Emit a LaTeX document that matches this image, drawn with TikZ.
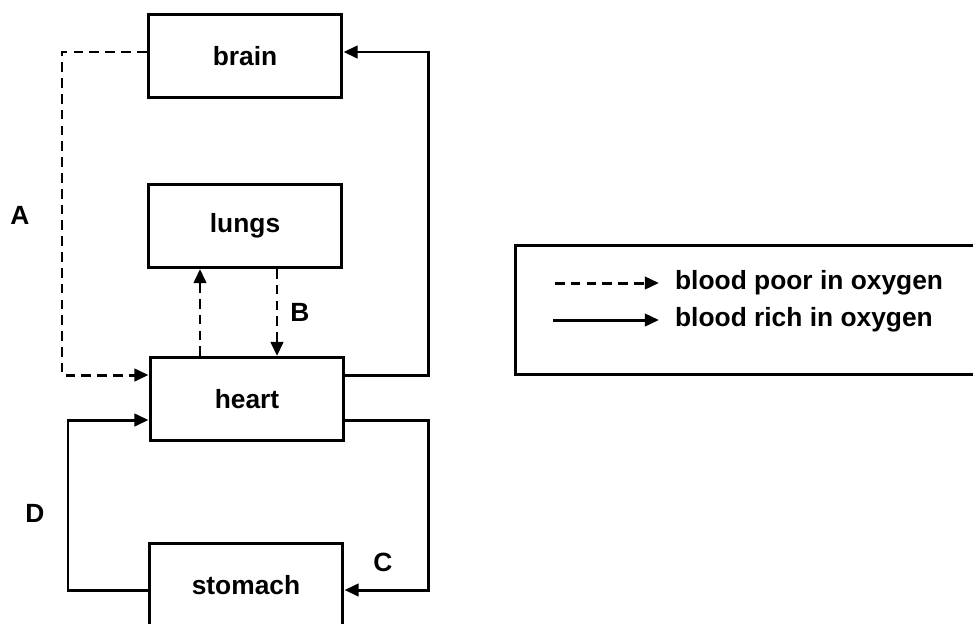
\documentclass[tikz,border=0pt]{standalone}
\usepackage{fontspec}
\setmainfont{Liberation Sans}
\usetikzlibrary{positioning,arrows.meta}

\begin{document}
\begin{tikzpicture}[x=0.02cm,y=-0.02cm,
    organ/.style={draw,line width=1.7pt,minimum width=3.88cm,minimum height=1.66cm,inner sep=0,font=\fontsize{15}{18}\selectfont\bfseries},
    lbl/.style={font=\fontsize{15}{18}\selectfont\bfseries,inner sep=1pt},
    rich/.style={line width=1.7pt,-{Triangle[length=8pt,width=7pt]}},
    poor/.style={rich,dash pattern=on 5.5pt off 3.5pt}]
    \useasboundingbox (0,0) rectangle (973,623);
    \node[organ] (brain) at (245,56) {brain};
    \node[organ] (lungs) at (245,226) {lungs};
    \node[organ] (heart) at (247,399) {heart};
    \node[organ] (stomach) at (246,585) {stomach};
    \node[lbl] (labA) at (20,215) {A};
    \node[lbl] (labB) at (300,312) {B};
    \node[lbl] (labC) at (383,562) {C};
    \node[lbl] (labD) at (35,513) {D};
    \draw[poor] (brain.west |- 0,52) -| (62,375) -- (heart.west |- 0,375);
    \draw[rich] (heart.east |- 0,375) -| (428,52) -- (brain.east |- 0,52);
    \draw[poor] (heart.north -| 200,0) -- (lungs.south -| 200,0);
    \draw[poor] (lungs.south -| 277,0) -- (heart.north -| 277,0);
    \draw[rich] (stomach.west |- 0,590) -| (68,420) -- (heart.west |- 0,420);
    \draw[rich] (heart.east |- 0,420) -| (428,590) -- (stomach.east |- 0,590);
    \draw[line width=1.7pt] (515,245) rectangle (1000,374);
    \node[lbl,anchor=west] (poortxt) at (673,283) {blood poor in oxygen};
    \node[lbl,anchor=west] (richtxt) at (673,320) {blood rich in oxygen};
    \coordinate (poorstart) at (555,283);
    \coordinate (richstart) at (553,320);
    \draw[poor] (poorstart) -- ([xshift=-8pt]poortxt.west);
    \draw[rich] (richstart) -- ([xshift=-8pt]richtxt.west);
  \end{tikzpicture}
\end{document}
